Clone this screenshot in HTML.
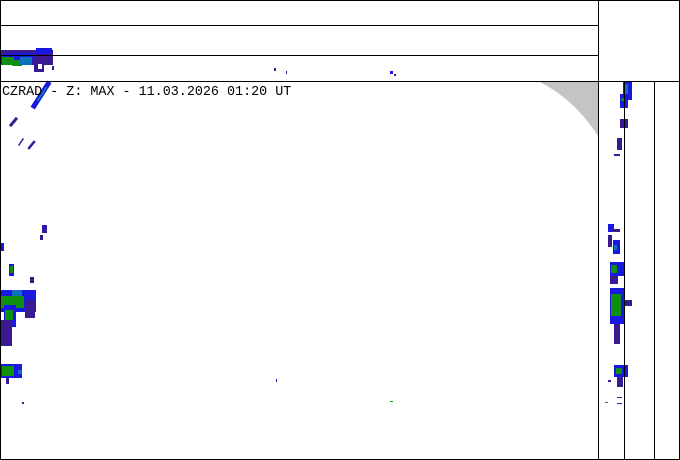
<!DOCTYPE html>
<html><head><style>
body{margin:0;background:#fff}
svg{display:block}
text{font-family:"Liberation Mono",monospace}
</style></head><body>
<svg width="680" height="460" xmlns="http://www.w3.org/2000/svg" shape-rendering="crispEdges">
<rect width="680" height="460" fill="#fff"/>
<path d="M540,82 L598,82 L598,136 Q575,100 540,82 Z" fill="#c4c4c4" shape-rendering="auto"/>
<g>
<rect x="1" y="50" width="52" height="15" fill="#3a1a90"/>
<rect x="4" y="53" width="30" height="8" fill="#1818e0"/>
<rect x="2" y="57" width="12" height="8" fill="#109010"/>
<rect x="12" y="60" width="10" height="6" fill="#109010"/>
<rect x="20" y="57" width="12" height="8" fill="#1070c0"/>
<rect x="36" y="48" width="16" height="6" fill="#1818e0"/>
<rect x="34" y="62" width="10" height="10" fill="#3a1a90"/>
<rect x="38" y="64" width="4" height="5" fill="#fff"/>
<rect x="52" y="66" width="2" height="4" fill="#3a1a90"/>
<rect x="274" y="68" width="2" height="3" fill="#3a1a90"/>
<rect x="390" y="71" width="3" height="3" fill="#1818e0"/>
<rect x="394" y="74" width="2" height="2" fill="#3a1a90"/>
<rect x="286" y="71" width="1" height="3" fill="#3a1a90"/>
</g>
<g stroke-linecap="square" shape-rendering="auto">
<line x1="34" y1="106" x2="48" y2="84" stroke="#1818e0" stroke-width="5"/>
<line x1="38" y1="100" x2="46" y2="88" stroke="#1070c0" stroke-width="2"/>
<line x1="11" y1="125" x2="16" y2="119" stroke="#3a1a90" stroke-width="3"/>
<line x1="19" y1="145" x2="23" y2="139" stroke="#3a1a90" stroke-width="1.5"/>
<line x1="29" y1="148" x2="34" y2="142" stroke="#3a1a90" stroke-width="2.5"/>
</g>
<g>
<rect x="42" y="225" width="5" height="8" fill="#3a1a90"/><rect x="44" y="225" width="2" height="4" fill="#1818e0"/>
<rect x="40" y="235" width="3" height="5" fill="#3a1a90"/>
<rect x="1" y="243" width="3" height="8" fill="#1818e0"/>
<rect x="9" y="264" width="5" height="12" fill="#1818e0"/><rect x="10" y="266" width="3" height="7" fill="#109010"/>
<rect x="30" y="277" width="4" height="6" fill="#3a1a90"/>
<rect x="0" y="290" width="36" height="22" fill="#1818e0"/>
<rect x="0" y="296" width="24" height="12" fill="#109010"/>
<rect x="12" y="290" width="10" height="6" fill="#1070c0"/>
<rect x="4" y="305" width="12" height="22" fill="#1818e0"/>
<rect x="5" y="310" width="8" height="10" fill="#109010"/>
<rect x="0" y="320" width="12" height="26" fill="#3a1a90"/>
<rect x="25" y="300" width="10" height="18" fill="#3a1a90"/>
<rect x="0" y="364" width="22" height="14" fill="#1818e0"/>
<rect x="2" y="366" width="12" height="10" fill="#109010"/>
<rect x="18" y="370" width="4" height="4" fill="#1070c0"/>
<rect x="6" y="378" width="3" height="6" fill="#3a1a90"/>
<rect x="22" y="402" width="2" height="2" fill="#3a1a90"/>
<rect x="390" y="401" width="3" height="1" fill="#109010"/>
<rect x="276" y="379" width="1" height="3" fill="#3a1a90"/>
</g>
<g>
<rect x="623" y="82" width="9" height="18" fill="#1818e0"/><rect x="625" y="84" width="3" height="10" fill="#1070c0"/>
<rect x="620" y="94" width="8" height="14" fill="#1818e0"/><rect x="621" y="98" width="3" height="3" fill="#109010"/>
<rect x="620" y="119" width="8" height="9" fill="#3a1a90"/>
<rect x="617" y="138" width="5" height="12" fill="#3a1a90"/>
<rect x="614" y="154" width="6" height="2" fill="#3a1a90"/>
<rect x="608" y="224" width="6" height="8" fill="#1818e0"/><rect x="612" y="229" width="8" height="3" fill="#3a1a90"/>
<rect x="608" y="235" width="4" height="12" fill="#3a1a90"/>
<rect x="613" y="240" width="7" height="14" fill="#1818e0"/><rect x="614" y="245" width="3" height="5" fill="#1070c0"/>
<rect x="610" y="262" width="14" height="14" fill="#1818e0"/><rect x="611" y="265" width="6" height="8" fill="#109010"/>
<rect x="610" y="276" width="8" height="8" fill="#3a1a90"/>
<rect x="610" y="288" width="15" height="36" fill="#1818e0"/>
<rect x="611" y="294" width="10" height="22" fill="#109010"/>
<rect x="624" y="300" width="8" height="6" fill="#3a1a90"/>
<rect x="614" y="324" width="6" height="20" fill="#3a1a90"/>
<rect x="614" y="365" width="14" height="12" fill="#1818e0"/><rect x="616" y="368" width="6" height="6" fill="#109010"/>
<rect x="617" y="377" width="6" height="10" fill="#3a1a90"/>
<rect x="608" y="380" width="3" height="2" fill="#3a1a90"/>
<rect x="617" y="397" width="5" height="1" fill="#3a1a90"/>
<rect x="617" y="403" width="5" height="1" fill="#3a1a90"/>
<rect x="605" y="402" width="3" height="1" fill="#1070c0"/>
</g>
<g stroke="#000" stroke-width="1.3" fill="none">
<rect x="0.5" y="0.5" width="679" height="459"/>
<line x1="0" y1="25.5" x2="598" y2="25.5"/>
<line x1="0" y1="55.5" x2="598" y2="55.5"/>
<line x1="0" y1="81.5" x2="680" y2="81.5"/>
<line x1="598.5" y1="0" x2="598.5" y2="460"/>
<line x1="624.5" y1="81" x2="624.5" y2="460"/>
<line x1="654.5" y1="81" x2="654.5" y2="460"/>
</g>
<text x="2" y="95" font-size="13.4" fill="#000">CZRAD - Z: MAX - 11.03.2026 01:20 UT</text>
</svg>
</body></html>
